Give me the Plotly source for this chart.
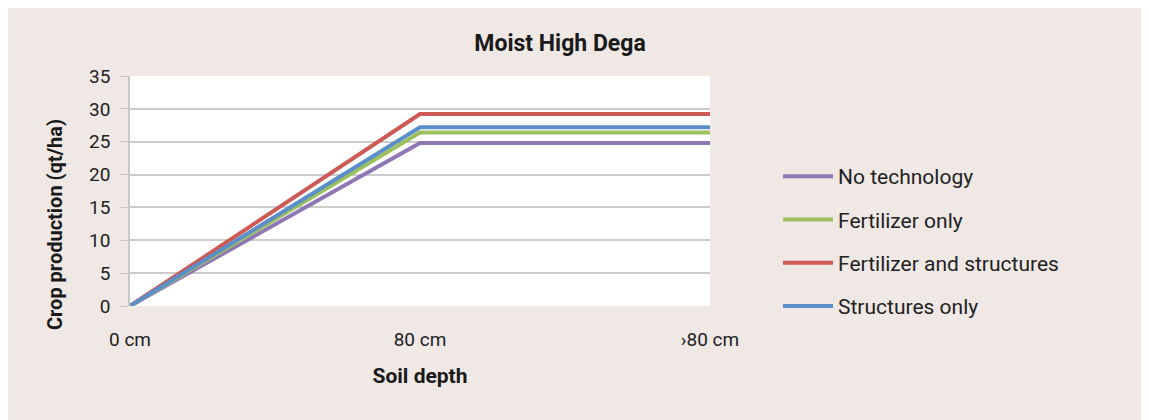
import plotly.graph_objects as go

categories = ["0 cm", "80 cm", "›80 cm"]
no_technology = [0, 24.8, 24.8]
fertilizer_only = [0, 26.4, 26.4]
fertilizer_and_structures = [0, 29.2, 29.2]
structures_only = [0, 27.2, 27.2]

series = [
    ("No technology", no_technology, "#8F77B5"),
    ("Fertilizer only", fertilizer_only, "#9DC05E"),
    ("Fertilizer and structures", fertilizer_and_structures, "#CD5A55"),
    ("Structures only", structures_only, "#5A8FC9"),
]

BG = "#EFE8E5"
FONT = "Roboto"
W, H = 1149, 420
L, R, T, B = 122, 702, 68, 298

fig = go.Figure()
for i, (name, vals, color) in enumerate(series):
    fig.add_trace(go.Scatter(
        x=categories, y=vals, name=name, mode="lines",
        line=dict(color=color, width=4),
        legendgroup=f"g{i}",
    ))

fig.update_layout(
    width=W, height=H,
    paper_bgcolor=BG, plot_bgcolor="white",
    margin=dict(l=L, r=W - R, t=T, b=H - B),
    font=dict(family=FONT, size=19, color="#222222"),
    title=dict(text="<b>Moist High Dega</b>", x=552 / W, xanchor="center",
               y=1 - 35 / H, yanchor="middle", font=dict(size=23, color="#1a1a1a")),
    showlegend=True,
    legend=dict(
        x=770 / W, xanchor="left", xref="container",
        y=1 - 148 / H, yanchor="top", yref="container",
        bgcolor="rgba(0,0,0,0)",
        font=dict(size=21, color="#222222"),
        tracegroupgap=13, itemwidth=50,
    ),
)

fig.update_xaxes(
    type="category", range=[0, 2], showgrid=False, showline=False,
    ticks="", ticklabelstandoff=20, tickfont=dict(size=19),
    title=dict(text="<b>Soil depth</b>", font=dict(size=21, color="#1a1a1a"), standoff=18),
)
fig.update_yaxes(
    range=[0, 35], dtick=5, showgrid=True, gridcolor="#CCCCCC", gridwidth=1.5,
    showline=True, linecolor="#C8C8C8", linewidth=1.5,
    ticks="outside", ticklen=8, tickcolor="#C8C8C8", ticklabelstandoff=6,
    tickfont=dict(size=19), zeroline=False,
)
fig.add_annotation(
    text="<b>Crop production (qt/ha)</b>", textangle=-90,
    xref="paper", yref="paper", xanchor="center", yanchor="middle",
    x=(47 - L) / (R - L), y=(B - 217) / (B - T),
    showarrow=False, font=dict(size=20, color="#1a1a1a"),
)

fig.write_html("out.html")
